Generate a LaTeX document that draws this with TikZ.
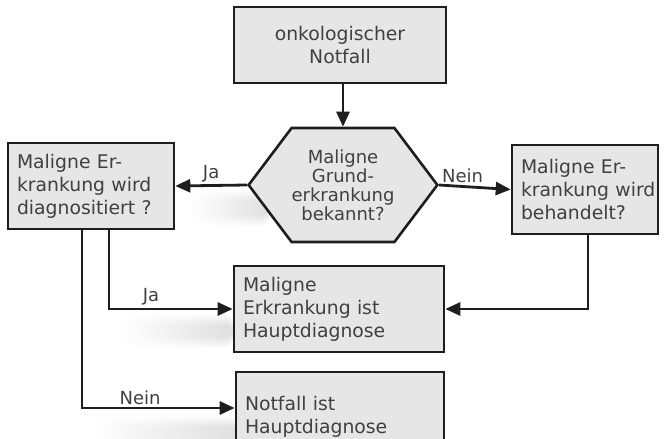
\documentclass[tikz,border=0pt]{standalone}
\usepackage{fontspec}
\setmainfont{DejaVu Sans}
\usetikzlibrary{shapes.symbols,arrows.meta}

\definecolor{boxgray}{HTML}{E6E6E6}
\definecolor{textgray}{HTML}{404040}
\definecolor{linegray}{HTML}{1E1E1E}

\tikzset{
  kasten/.style={draw=linegray,line width=2.6pt,fill=boxgray,text=textgray,
    align=left,inner xsep=9pt,inner ysep=0pt,font=\fontsize{18.8}{23}\selectfont},
  frage/.style={signal,signal to=east and west,signal pointer angle=106,
    draw=linegray,line width=2.6pt,fill=boxgray,text=textgray,align=center,
    inner sep=0pt,minimum width=100pt,minimum height=114pt,
    font=\fontsize{18}{19}\selectfont},
  pfeil/.style={line width=2.8pt,draw=linegray,-{Triangle[length=15pt,width=13pt]}},
  marke/.style={text=textgray,font=\fontsize{18}{20}\selectfont,inner sep=2pt}
}

\begin{document}
\begin{tikzpicture}[x=1pt,y=-1pt]
\useasboundingbox (0,0) rectangle (664,439);
\clip (0,0) rectangle (664,439);

% faint shadows
\foreach \sx/\sy/\sw/\sh in {180/190/90/36, 112/314/122/34, 82/416/156/34}
  \foreach \i in {0,...,7}
    \shade[left color=white,right color=black,opacity=0.015,rounded corners=10pt]
      (\sx+\i*3,\sy+\i*1.5) rectangle ++(\sw-\i*3,\sh-\i*3);

% boxes
\node[kasten,minimum width=212pt,minimum height=76pt,align=center] (notfall) at (340,45)
  {onkologischer\\Notfall};
\node[frage] (grund) at (343,185) {Maligne\\Grund-\\erkrankung\\bekannt?};
\node[kasten,minimum width=166pt,minimum height=86pt,text width=148pt] (diag) at (91,186)
  {Maligne Er-\\krankung wird\\diagnositiert ?};
\node[kasten,minimum width=146pt,minimum height=89pt,text width=128pt] (behand) at (585,189.5)
  {Maligne Er-\\\mbox{krankung wird}\\behandelt?};
\node[kasten,minimum width=210pt,minimum height=86pt,text width=192pt] (haupt) at (339,309)
  {Maligne\\Erkrankung ist\\Hauptdiagnose};
\node[kasten,minimum width=208pt,minimum height=90pt,text width=190pt] (nhaupt) at (340,417)
  {Notfall ist\\Hauptdiagnose};

% arrows
\draw[pfeil] (notfall.south -| grund.north) -- (grund.north);
\draw[pfeil] (grund.west) -- node[marke,above] {Ja} (diag.east);
\draw[pfeil] (grund.east) -- node[marke,above,pos=0.33] {Nein} (behand.west);
\draw[pfeil] ([xshift=18pt]diag.south) |- node[marke,above,pos=0.67] {Ja} (haupt.west);
\draw[pfeil] ([xshift=-9pt]diag.south) |- node[marke,above,pos=0.69] {Nein} ([yshift=9pt]nhaupt.west);
\draw[pfeil] ([xshift=3pt]behand.south) |- (haupt.east);
\end{tikzpicture}
\end{document}
